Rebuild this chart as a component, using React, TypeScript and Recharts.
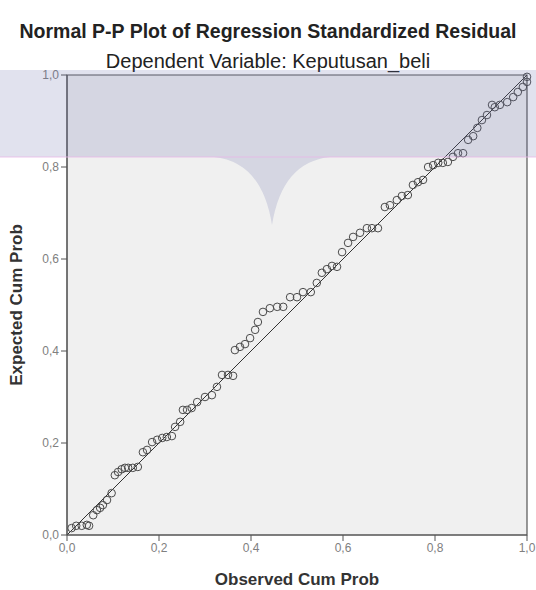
import React from 'react'
import {
  ScatterChart, Scatter, XAxis, YAxis, CartesianGrid, ReferenceLine, ReferenceArea, Label,
} from 'recharts'

const title = 'Normal P-P Plot of Regression Standardized Residual'
const subtitle = 'Dependent Variable: Keputusan_beli'
const xTitle = 'Observed Cum Prob'
const yTitle = 'Expected Cum Prob'

const ticks = [0, 0.2, 0.4, 0.6, 0.8, 1]

// observed / expected cumulative probability
const observed = [
  0.010, 0.020, 0.032, 0.043, 0.048, 0.057, 0.065, 0.072, 0.078, 0.087,
  0.097, 0.104, 0.111, 0.119, 0.126, 0.133, 0.143, 0.154, 0.165, 0.174,
  0.185, 0.196, 0.207, 0.217, 0.228, 0.235, 0.246, 0.252, 0.261, 0.271,
  0.283, 0.300, 0.315, 0.326, 0.337, 0.350, 0.361, 0.365, 0.376, 0.387,
  0.398, 0.409, 0.415, 0.426, 0.441, 0.457, 0.470, 0.485, 0.500, 0.513,
  0.530, 0.543, 0.554, 0.565, 0.576, 0.587, 0.598, 0.611, 0.622, 0.637,
  0.652, 0.663, 0.676, 0.691, 0.702, 0.717, 0.728, 0.741, 0.752, 0.763,
  0.774, 0.785, 0.796, 0.807, 0.817, 0.828, 0.839, 0.850, 0.861, 0.872,
  0.883, 0.892, 0.902, 0.913, 0.924, 0.930, 0.941, 0.957, 0.970, 0.980,
  0.991, 1.000, 1.000,
]
const expected = [
  0.015, 0.020, 0.020, 0.022, 0.020, 0.043, 0.054, 0.059, 0.065, 0.076,
  0.091, 0.130, 0.137, 0.143, 0.146, 0.146, 0.146, 0.148, 0.180, 0.185,
  0.202, 0.207, 0.211, 0.213, 0.215, 0.235, 0.246, 0.272, 0.272, 0.276,
  0.289, 0.300, 0.304, 0.322, 0.348, 0.348, 0.346, 0.402, 0.409, 0.415,
  0.428, 0.446, 0.463, 0.485, 0.493, 0.496, 0.496, 0.517, 0.517, 0.528,
  0.528, 0.548, 0.570, 0.578, 0.585, 0.583, 0.615, 0.635, 0.648, 0.657,
  0.667, 0.667, 0.667, 0.713, 0.717, 0.728, 0.737, 0.739, 0.761, 0.767,
  0.772, 0.800, 0.804, 0.809, 0.809, 0.811, 0.822, 0.830, 0.830, 0.859,
  0.867, 0.885, 0.902, 0.913, 0.935, 0.930, 0.935, 0.941, 0.952, 0.963,
  0.974, 0.985, 0.996,
]

const points = observed.map((x, i) => ({ x, y: expected[i] }))

const fmt = (v: number) => v.toFixed(1).replace('.', ',')
const font = '"Liberation Sans", Arial, sans-serif'

const Ring = (p: any) => (
  <circle cx={p.cx} cy={p.cy} r={3.8} fill="none" stroke="#4a4a4a" strokeWidth={1} />
)

export default function App() {
  return (
    <div style={{ position: 'absolute', left: 0, top: 0, width: 536, height: 590, background: '#fff', fontFamily: font }}>
      <div style={{ position: 'absolute', top: 20, width: 536, textAlign: 'center', fontSize: 19.5, fontWeight: 'bold', color: '#222', whiteSpace: 'nowrap' }}>
        {title}
      </div>
      <div style={{ position: 'absolute', top: 50, width: 536, textAlign: 'center', fontSize: 20, color: '#222', whiteSpace: 'nowrap' }}>
        {subtitle}
      </div>
      <div style={{ position: 'absolute', top: 0, left: 0 }}>
        <ScatterChart width={536} height={590} margin={{ top: 75, right: 9, bottom: 0, left: 0 }}>
          <CartesianGrid fill="#f0f0f0" horizontal={false} vertical={false} />
          <ReferenceArea x1={0} x2={1} y1={0} y2={1} fill="none" stroke="#555" strokeWidth={1.2} />
          <XAxis
            type="number" dataKey="x" domain={[0, 1]} ticks={ticks} tickFormatter={fmt}
            height={55} stroke="#555" tickSize={6} tickLine={{ stroke: '#555' }}
            tick={{ fontSize: 12, fill: '#808080', fontFamily: font }}
          >
            <Label value={xTitle} position="insideBottom" offset={5}
              style={{ fontSize: 17, fontWeight: 'bold', fill: '#333', fontFamily: font }} />
          </XAxis>
          <YAxis
            type="number" dataKey="y" domain={[0, 1]} ticks={ticks} tickFormatter={fmt}
            width={67} stroke="#555" tickSize={6} tickLine={{ stroke: '#555' }}
            tick={{ fontSize: 12, fill: '#808080', fontFamily: font }}
          >
            <Label value={yTitle} angle={-90} position="insideLeft" offset={16}
              style={{ fontSize: 17, fontWeight: 'bold', fill: '#333', fontFamily: font, textAnchor: 'middle' }} />
          </YAxis>
          <ReferenceLine segment={[{ x: 0, y: 0 }, { x: 1, y: 1 }]} stroke="#333" strokeWidth={1} />
          <Scatter data={points} shape={Ring} isAnimationActive={false} />
        </ScatterChart>
      </div>
      {/* watermark band from the source page */}
      <svg width={536} height={590} style={{ position: 'absolute', left: 0, top: 0, pointerEvents: 'none' }}>
        <path d="M0,70 L536,70 L536,157 L330,157 Q282,162 272,225 Q262,162 214,157 L0,157 Z" fill="#6a6fa8" opacity={0.2} />
        <line x1={0} y1={157} x2={536} y2={157} stroke="#e8b8e8" strokeWidth={1} opacity={0.8} />
      </svg>
    </div>
  )
}
